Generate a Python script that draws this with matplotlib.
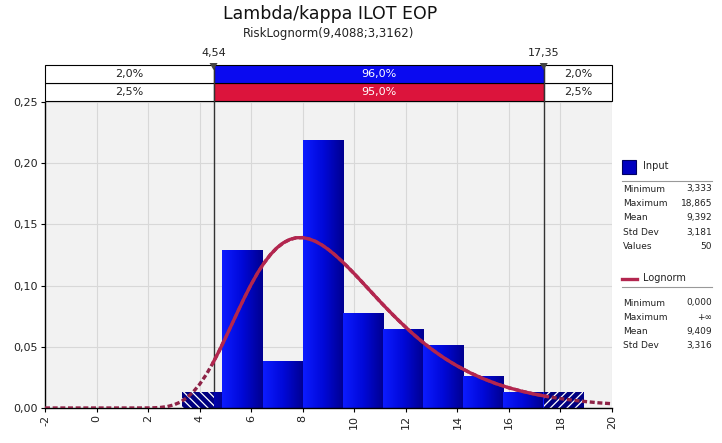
import numpy as np
import matplotlib
matplotlib.use("Agg")
import matplotlib.pyplot as plt
from matplotlib.patches import Rectangle, Polygon
from matplotlib.colors import LinearSegmentedColormap

plt.rcParams["font.family"] = ["DejaVu Sans"]
plt.rcParams["hatch.linewidth"] = 0.9

# histogram of the 50 input values (10 bins from min to max)
data_min, data_max = 3.333, 18.865
counts = [1, 10, 3, 17, 6, 5, 4, 2, 1, 1]
n_values = 50

# fitted lognormal curve
curve_x = [-2, -1, 0, 1, 1.5, 2, 2.25, 2.5, 2.75, 3, 3.25, 3.5, 3.75, 4, 4.25, 4.5,
           4.75, 5, 5.25, 5.5, 5.75, 6, 6.25, 6.5, 6.75, 7, 7.25, 7.5, 7.75, 8, 8.25,
           8.5, 8.75, 9, 9.25, 9.5, 9.75, 10, 10.25, 10.5, 10.75, 11, 11.25, 11.5,
           11.75, 12, 12.25, 12.5, 12.75, 13, 13.25, 13.5, 13.75, 14, 14.5, 15, 15.5,
           16, 16.5, 17, 17.5, 18, 18.5, 19, 19.5, 20]
curve_y = [0, 0, 0, 0, 0.00001, 0.00005, 0.00017, 0.0005, 0.0012, 0.0026, 0.0048,
           0.0083, 0.0131, 0.0194, 0.0271, 0.0362, 0.0463, 0.0572, 0.0684, 0.0797,
           0.0907, 0.1010, 0.1104, 0.1185, 0.1254, 0.1309, 0.1350, 0.1377, 0.1391,
           0.1392, 0.1381, 0.1361, 0.1331, 0.1294, 0.1251, 0.1203, 0.1151, 0.1097,
           0.1041, 0.0984, 0.0927, 0.0870, 0.0815, 0.0761, 0.0709, 0.0659, 0.0611,
           0.0565, 0.0522, 0.0481, 0.0443, 0.0407, 0.0374, 0.0343, 0.0287, 0.0240,
           0.0199, 0.0165, 0.0137, 0.0113, 0.0093, 0.0077, 0.0063, 0.0052, 0.0042,
           0.0035]

# delimiters and band percentages
left_mark, right_mark = 4.54, 17.35
left_label, right_label = "4,54", "17,35"
input_pcts = ["2,0%", "96,0%", "2,0%"]
fit_pcts = ["2,5%", "95,0%", "2,5%"]

title = "Lambda/kappa ILOT EOP"
subtitle = "RiskLognorm(9,4088;3,3162)"

x_ticks = list(range(-2, 21, 2))
y_ticks = [0.0, 0.05, 0.10, 0.15, 0.20, 0.25]

input_stats = [("Minimum", "3,333"), ("Maximum", "18,865"), ("Mean", "9,392"),
               ("Std Dev", "3,181"), ("Values", "50")]
fit_stats = [("Minimum", "0,000"), ("Maximum", "+\u221e"), ("Mean", "9,409"),
             ("Std Dev", "3,316")]

BLUE = "#0a0af0"
CRIMSON = "#dc143c"
CURVE = "#b3264f"
W, H = 722, 443

fig = plt.figure(figsize=(W / 100, H / 100), dpi=100)
fig.patch.set_facecolor("white")


def fx(px):
    return px / W


def fy(py):
    return 1 - py / H


ax = fig.add_axes([fx(45), fy(408), (612 - 45) / W, (408 - 102) / H])
ax.set_facecolor("#f2f2f2")
ax.set_xlim(-2, 20)
ax.set_ylim(0, 0.25)
ax.set_xticks(x_ticks)
ax.set_xticklabels([str(t) for t in x_ticks], rotation=90, fontsize=8, color="#222222")
ax.set_yticks(y_ticks)
ax.set_yticklabels([f"{t:.2f}".replace(".", ",") for t in y_ticks], fontsize=8,
                   color="#222222")
ax.tick_params(length=3, width=0.8, pad=2)
ax.grid(True, color="#d8d8d8", lw=0.8)
ax.set_axisbelow(True)
for s in ["top", "right"]:
    ax.spines[s].set_visible(False)
for s in ["left", "bottom"]:
    ax.spines[s].set_color("black")
    ax.spines[s].set_linewidth(1.0)

# delimiter lines
for m in (left_mark, right_mark):
    ax.axvline(m, color="#333333", lw=1.0, zorder=1.5)

# gradient bars
width = (data_max - data_min) / len(counts)
edges = [data_min + i * width for i in range(len(counts) + 1)]
heights = [c / n_values / width for c in counts]
grad = LinearSegmentedColormap.from_list("bargrad", ["#0c1cff", "#0008d8", "#000090"])
g = np.linspace(0, 1, 64).reshape(1, -1)
for i, h in enumerate(heights):
    x0, x1 = edges[i], edges[i + 1]
    rect = Rectangle((x0, 0), x1 - x0, h, facecolor="none", edgecolor="none")
    ax.add_patch(rect)
    im = ax.imshow(g, cmap=grad, extent=(x0, x1, 0, h), aspect="auto", zorder=2,
                   interpolation="bilinear")
    im.set_clip_path(rect)
    # hatched tails outside the delimiters
    if x0 < left_mark:
        ax.add_patch(Rectangle((x0, 0), left_mark - x0, h, facecolor="#000080",
                               edgecolor="white", lw=0, hatch="\\\\\\\\", zorder=2.1))
    if x1 > right_mark:
        ax.add_patch(Rectangle((right_mark, 0), x1 - right_mark, h, facecolor="#000080",
                               edgecolor="white", lw=0, hatch="////", zorder=2.1))
ax.set_xlim(-2, 20)
ax.set_ylim(0, 0.25)

# fitted curve: solid between delimiters, dashed in the tails
cx = np.array(curve_x, dtype=float)
cy = np.array(curve_y, dtype=float)
mid = (cx >= 4.5) & (cx <= 17.5)
ax.plot(cx, cy, color="#8e2347", lw=2.4, ls=(0, (1.5, 0.8)), zorder=3,
        solid_capstyle="butt")
ax.plot(cx[mid], cy[mid], color=CURVE, lw=2.4, zorder=3.1, solid_capstyle="round",
        solid_joinstyle="round")

# top band with percentages
band = fig.add_axes([fx(45), fy(101), (612 - 45) / W, 36 / H])
band.set_xlim(-2, 20)
band.set_ylim(0, 2)
band.axis("off")
segs = [(-2, left_mark), (left_mark, right_mark), (right_mark, 20)]
for row, (pcts, mid_col) in enumerate([(fit_pcts, CRIMSON), (input_pcts, BLUE)]):
    for j, (a, b) in enumerate(segs):
        fc = mid_col if j == 1 else "white"
        band.add_patch(Rectangle((a, row), b - a, 1, facecolor=fc, edgecolor="black",
                                 lw=0.8, clip_on=False))
        band.text((a + b) / 2, row + 0.5, pcts[j], ha="center", va="center",
                  fontsize=8, color="white" if j == 1 else "#222222")
for m in (left_mark, right_mark):
    band.plot([m, m], [0, 2], color="#333333", lw=1.0, clip_on=False, zorder=4)

# triangle markers and labels above the band
for m, lab in ((left_mark, left_label), (right_mark, right_label)):
    xp = 45 + (m + 2) / 22 * 567
    tri = Polygon([(fx(xp - 4), fy(63)), (fx(xp + 4), fy(63)), (fx(xp), fy(70))],
                  closed=True, transform=fig.transFigure, facecolor="#444444",
                  edgecolor="none")
    fig.patches.append(tri)
    fig.text(fx(xp), fy(53), lab, ha="center", va="center", fontsize=8, color="#222222")

fig.text(fx(330), fy(14), title, ha="center", va="center", fontsize=12.5, color="#111111")
fig.text(fx(329), fy(34), subtitle, ha="center", va="center", fontsize=8.5,
         color="#222222")

# legend / statistics panel
fig.patches.append(Rectangle((fx(622), fy(174)), 14 / W, 14 / H, transform=fig.transFigure,
                             facecolor="#0000c0", edgecolor="#000060", lw=0.8))
fig.text(fx(643), fy(166), "Input", fontsize=7, va="center", color="#222222")
fig.lines.append(plt.Line2D([fx(622), fx(712)], [fy(181), fy(181)],
                            transform=fig.transFigure, color="#999999", lw=0.8))
for k, (lab, val) in enumerate(input_stats):
    yy = 189 + k * 14.4
    fig.text(fx(623), fy(yy), lab, fontsize=6.5, va="center", color="#222222")
    fig.text(fx(712), fy(yy), val, fontsize=6.5, va="center", ha="right", color="#222222")

fig.lines.append(plt.Line2D([fx(622), fx(637)], [fy(279), fy(279)],
                            transform=fig.transFigure, color=CURVE, lw=2.4))
fig.text(fx(643), fy(278), "Lognorm", fontsize=7, va="center", color="#222222")
fig.lines.append(plt.Line2D([fx(622), fx(712)], [fy(287), fy(287)],
                            transform=fig.transFigure, color="#999999", lw=0.8))
for k, (lab, val) in enumerate(fit_stats):
    yy = 303 + k * 14.1
    fig.text(fx(623), fy(yy), lab, fontsize=6.5, va="center", color="#222222")
    fig.text(fx(712), fy(yy), val, fontsize=6.5, va="center", ha="right", color="#222222")

fig.savefig("out.png", dpi=100)
